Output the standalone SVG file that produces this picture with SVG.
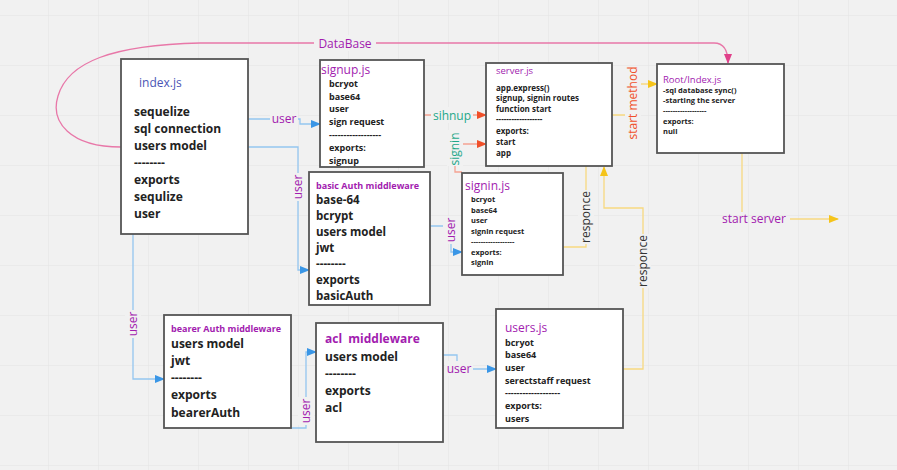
<svg xmlns="http://www.w3.org/2000/svg" width="897" height="470" viewBox="0 0 897 470">
<defs>
<pattern id="grid" x="-2" y="15" width="50" height="50" patternUnits="userSpaceOnUse">
<path d="M0,0 H50 M0,0 V50" fill="none" stroke="#e4e4e4" stroke-width="1"/>
</pattern>
<marker id="aBlue" markerWidth="10" markerHeight="8" refX="9" refY="4" orient="auto" markerUnits="userSpaceOnUse"><path d="M0,0 L10,4 L0,8 z" fill="#3a96e6"/></marker>
<marker id="aRed" markerWidth="10" markerHeight="8" refX="9" refY="4" orient="auto" markerUnits="userSpaceOnUse"><path d="M0,0 L10,4 L0,8 z" fill="#f0502a"/></marker>
<marker id="aYel" markerWidth="10" markerHeight="8" refX="9" refY="4" orient="auto" markerUnits="userSpaceOnUse"><path d="M0,0 L10,4 L0,8 z" fill="#f5c41a"/></marker>
<marker id="aPink" markerWidth="10" markerHeight="8" refX="9" refY="4" orient="auto" markerUnits="userSpaceOnUse"><path d="M0,0 L10,4 L0,8 z" fill="#e0408a"/></marker>
</defs>
<style>
.box{fill:#ffffff;stroke:#555555;stroke-width:1.8}
text{font-family:"Open Sans","Noto Sans","Liberation Sans",sans-serif;}
.t{fill:#a21caf}
.tb{fill:#a21caf;font-weight:bold}
.it{fill:#222222;font-weight:bold}
.blue{fill:none;stroke:#94c6f0;stroke-width:1.3}
.sal{fill:none;stroke:#f5a392;stroke-width:1.3}
.yel{fill:none;stroke:#f7d980;stroke-width:1.3}
.pink{fill:none;stroke:#e877a8;stroke-width:1.3}
.lbl{font-size:12px}
.bg{fill:#f1f1f1}
</style>
<rect x="0" y="0" width="897" height="470" fill="#f1f1f1"/>
<rect x="0" y="0" width="897" height="470" fill="url(#grid)"/>

<g id="connectors">
<path class="pink" d="M121,147 C70,147 50,122 58,96 C68,62 112,45 200,43 L714,43 C724,43 728,50 728,63" marker-end="url(#aPink)"/>
<rect class="bg" x="314" y="35" width="62" height="16"/>
<text x="345" y="47.5" class="lbl t" text-anchor="middle">DataBase</text>

<path class="blue" d="M248,119 L300,119 L300,124 L320,124" marker-end="url(#aBlue)"/>
<rect class="bg" x="270" y="111" width="28" height="15"/>
<text x="284" y="123" class="lbl t" text-anchor="middle">user</text>

<path class="blue" d="M248,147 L298,147 L298,270 L309,270" marker-end="url(#aBlue)"/>
<rect class="bg" x="290" y="173" width="16" height="28"/>
<text transform="translate(302,187) rotate(-90)" class="lbl t" text-anchor="middle">user</text>

<path class="blue" d="M133,234 L133,379 L164,379" marker-end="url(#aBlue)"/>
<rect class="bg" x="125" y="310" width="16" height="28"/>
<text transform="translate(137,324) rotate(-90)" class="lbl t" text-anchor="middle">user</text>

<path class="blue" d="M291,428 L306,428 L306,352 L316,352" marker-end="url(#aBlue)"/>
<rect class="bg" x="298" y="397" width="16" height="28"/>
<text transform="translate(310,411) rotate(-90)" class="lbl t" text-anchor="middle">user</text>

<path class="blue" d="M443,355 L457,355 L457,369 L496,369" marker-end="url(#aBlue)"/>
<rect class="bg" x="445" y="361" width="28" height="15"/>
<text x="459" y="373" class="lbl t" text-anchor="middle">user</text>

<path class="blue" d="M430,226 L451,226 L451,252 L462,252" marker-end="url(#aBlue)"/>
<rect class="bg" x="443" y="216" width="16" height="28"/>
<text transform="translate(455,230) rotate(-90)" class="lbl t" text-anchor="middle">user</text>

<path class="sal" d="M424,115 L486,115" marker-end="url(#aRed)"/>
<rect class="bg" x="431" y="107" width="42" height="16"/>
<text x="452" y="119.5" class="lbl" fill="#1fa88a" text-anchor="middle">sihnup</text>

<path class="sal" d="M462,172 L455,172 L455,144 L486,144" marker-end="url(#aRed)"/>
<rect class="bg" x="447" y="130" width="16" height="36"/>
<text transform="translate(459,149) rotate(-90)" class="lbl" fill="#1fa88a" text-anchor="middle">signin</text>

<path class="yel" d="M612,115 L633,115 L633,84 L657,84" marker-end="url(#aYel)"/>
<rect class="bg" x="625" y="66" width="16" height="74"/>
<text transform="translate(637,103) rotate(-90)" class="lbl" fill="#f0502a" text-anchor="middle">start method</text>

<path class="yel" d="M742,153 L742,212"/>
<path class="yel" d="M790,219 L838,219" marker-end="url(#aYel)"/>
<text x="754" y="223" class="lbl t" text-anchor="middle">start server</text>

<path class="yel" d="M563,247 L586,247 L586,166"/>
<rect class="bg" x="578" y="190" width="16" height="54"/>
<text transform="translate(590,217) rotate(-90)" class="lbl" fill="#333333" text-anchor="middle">responce</text>

<path class="yel" d="M623,369 L643,369 L643,208 L604,208 L604,167" marker-end="url(#aYel)"/>
<rect class="bg" x="635" y="234" width="16" height="54"/>
<text transform="translate(647,261) rotate(-90)" class="lbl" fill="#333333" text-anchor="middle">responce</text>
</g>

<g id="index-js">
<rect class="box" x="121" y="59" width="127" height="175"/>
<text x="139" y="87" font-size="12" fill="#4a55b5">index.js</text>
<g class="it" font-size="12">
<text x="134" y="116">sequelize</text>
<text x="134" y="133">sql connection</text>
<text x="134" y="150">users model</text>
<text x="134" y="167">--------</text>
<text x="134" y="184">exports</text>
<text x="134" y="201">sequlize</text>
<text x="134" y="218">user</text>
</g>
</g>

<g id="signup-js">
<rect class="box" x="320" y="60" width="104" height="107"/>
<text x="321" y="74" font-size="12" class="t">signup.js</text>
<g class="it" font-size="9">
<text x="329" y="87">bcryot</text>
<text x="329" y="99.5">base64</text>
<text x="329" y="112">user</text>
<text x="329" y="125">sign request</text>
<text x="329" y="138">------------------</text>
<text x="329" y="151">exports:</text>
<text x="329" y="164">signup</text>
</g>
</g>

<g id="server-js">
<rect class="box" x="486" y="63" width="126" height="103"/>
<text x="496" y="74" font-size="9.5" class="t">server.js</text>
<g class="it" font-size="8">
<text x="496" y="91">app.express()</text>
<text x="496" y="101">signup, signin routes</text>
<text x="496" y="111.5">function start</text>
<text x="496" y="122">------------------</text>
<text x="496" y="134">exports:</text>
<text x="496" y="145">start</text>
<text x="496" y="155.5">app</text>
</g>
</g>

<g id="root-index-js">
<rect class="box" x="657" y="64" width="127" height="89"/>
<text x="663" y="82.5" font-size="9.5" class="t">Root/Index.js</text>
<g class="it" font-size="7.5">
<text x="663" y="92.5">-sql database sync()</text>
<text x="663" y="102.5">-starting the server</text>
<text x="663" y="113">------------------</text>
<text x="663" y="124">exports:</text>
<text x="663" y="134">null</text>
</g>
</g>

<g id="basic-auth">
<rect class="box" x="309" y="172" width="121" height="133"/>
<text x="316" y="188.5" font-size="9" class="tb">basic Auth middleware</text>
<g class="it" font-size="11.5">
<text x="316" y="204">base-64</text>
<text x="316" y="220">bcrypt</text>
<text x="316" y="236">users model</text>
<text x="316" y="252">jwt</text>
<text x="316" y="268">--------</text>
<text x="316" y="284">exports</text>
<text x="316" y="300">basicAuth</text>
</g>
</g>

<g id="signin-js">
<rect class="box" x="462" y="173" width="101" height="102"/>
<text x="465" y="190" font-size="12" class="t">signin.js</text>
<g class="it" font-size="7.5">
<text x="471" y="202">bcryot</text>
<text x="471" y="213">base64</text>
<text x="471" y="223">user</text>
<text x="471" y="233.5">signin request</text>
<text x="471" y="244">------------------</text>
<text x="471" y="254.5">exports:</text>
<text x="471" y="264.5">signin</text>
</g>
</g>

<g id="bearer-auth">
<rect class="box" x="164" y="315" width="127" height="113"/>
<text x="171" y="332" font-size="9" class="tb">bearer Auth middleware</text>
<g class="it" font-size="12">
<text x="171" y="348">users model</text>
<text x="171" y="365">jwt</text>
<text x="171" y="382">--------</text>
<text x="171" y="399">exports</text>
<text x="171" y="417">bearerAuth</text>
</g>
</g>

<g id="acl-middleware">
<rect class="box" x="316" y="323" width="127" height="119"/>
<text x="325" y="343" font-size="12" class="tb" style="white-space:pre">acl  middleware</text>
<g class="it" font-size="12">
<text x="325" y="361">users model</text>
<text x="325" y="378">--------</text>
<text x="325" y="395">exports</text>
<text x="325" y="412">acl</text>
</g>
</g>

<g id="users-js">
<rect class="box" x="496" y="309" width="127" height="119"/>
<text x="505" y="332" font-size="12" class="t">users.js</text>
<g class="it" font-size="9">
<text x="505" y="346">bcryot</text>
<text x="505" y="358">base64</text>
<text x="505" y="371">user</text>
<text x="505" y="383.5">serectstaff request</text>
<text x="505" y="396">-------------------</text>
<text x="505" y="409">exports:</text>
<text x="505" y="422">users</text>
</g>
</g>
</svg>
